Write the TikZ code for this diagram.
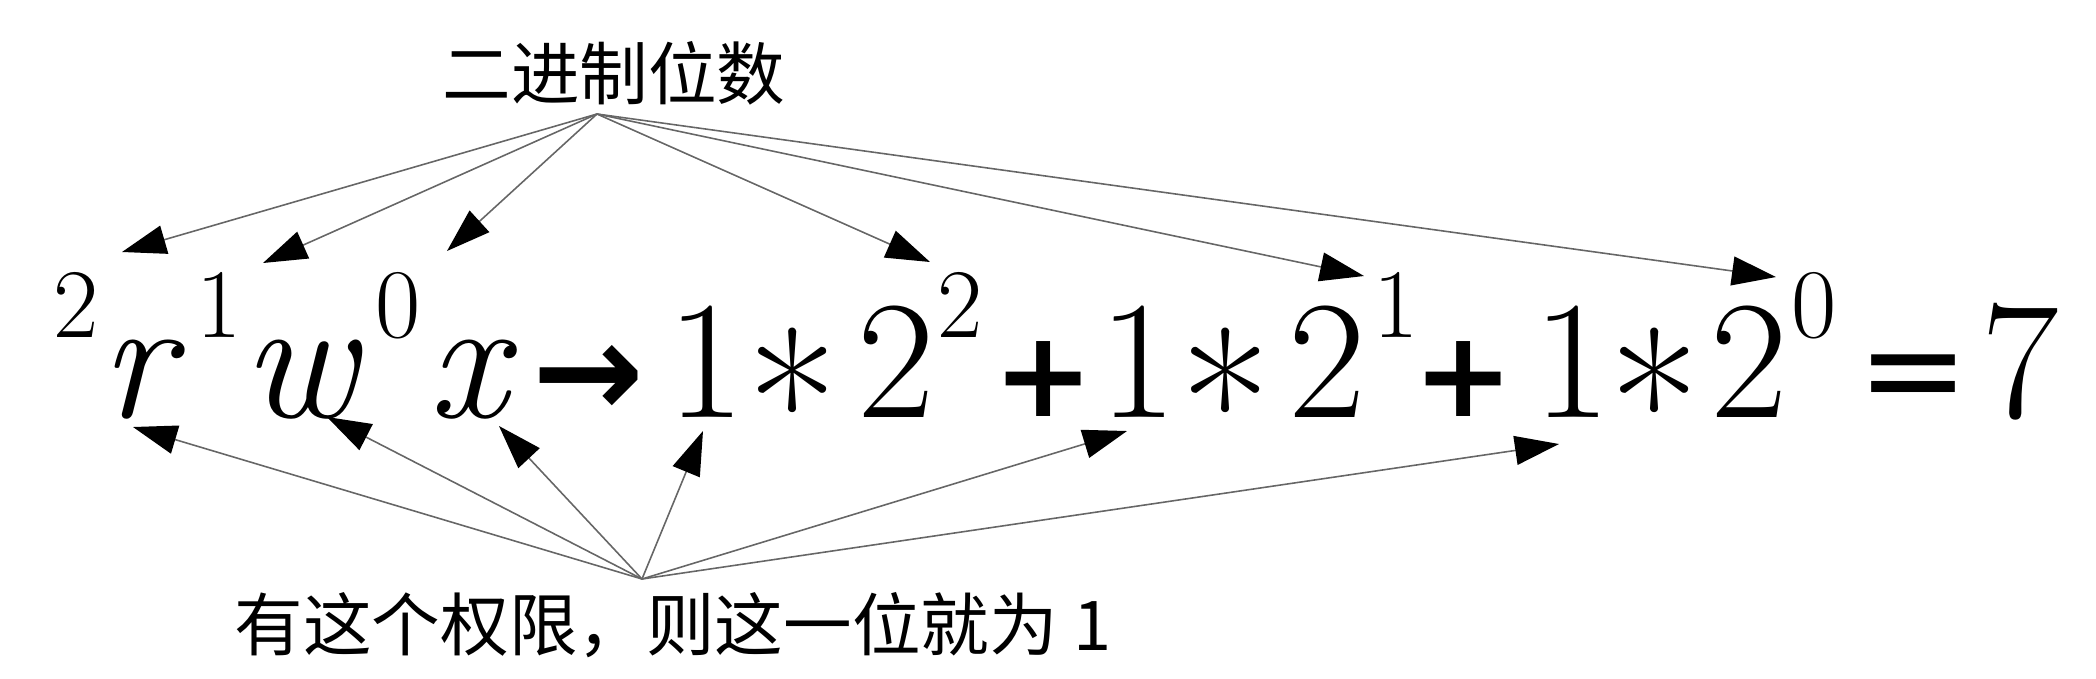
\documentclass[tikz,border=0pt]{standalone}
\usepackage{fontspec}
\newfontfamily\cjk{Noto Sans CJK SC}
\newfontfamily\symfont{DejaVu Sans}
\usetikzlibrary{arrows.meta,calc}

\tikzset{
  glyph/.style={anchor=base, inner sep=0pt, font=\fontsize{48}{50}\selectfont},
  var/.style={glyph, font=\itshape\fontsize{50}{50}\selectfont},
  sup/.style={anchor=base, inner sep=0pt, font=\fontsize{28}{30}\selectfont},
  caption/.style={font=\cjk\fontsize{19.5}{24}\selectfont},
  pin/.style={draw=black!60, line width=0.45pt,
    -{Triangle[length=4.4mm,width=2.9mm,color=black]}}
}

\begin{document}
\begin{tikzpicture}[x=0.01cm,y=-0.01cm]
	\useasboundingbox (0,0) rectangle (2096,678);
	
	% Labels
	\node[caption] (bits) at (614,73) {二进制位数};
	\node[caption] (perm) at (673,625) {有这个权限，则这一位就为 1};
	\coordinate (bitsrc) at (597,114);
	\coordinate (permsrc) at (642,579);
	
	% rwx with bit positions
	\node[var] (r) at (137,417) {r};
	\node[var] (w) at (300,417) {w};
	\node[var] (x) at (468,417) {x};
	\node[glyph, font=\symfont\bfseries\fontsize{38}{40}\selectfont] (to) at (588,417) {→};
	
	% Formula
	\foreach \n/\x/\t in {one1/706/1, one2/1138/1, one3/1572/1, two1/896/2, two2/1327/2, two3/1749/2, seven/2020/7} {
		\node[glyph] (\n) at (\x,417) {\t};
	}
	\foreach \n/\x in {ast1/793, ast2/1226, ast3/1655} {
		\node[glyph, font=\fontsize{56}{56}\selectfont] (\n) at (\x,475) {*};
	}
	\foreach \n/\x in {plus1/1044, plus2/1464} {
		\node[glyph, font=\symfont\bfseries\fontsize{34}{40}\selectfont] (\n) at (\x,416) {+};
	}
	\node[glyph, font=\symfont\fontsize{38}{40}\selectfont] (eq) at (1913,415) {=};
	\foreach \n/\x/\t in {sr/76/2, sw/219/1, sx/398/0, e1/960/2, e2/1396/1, e3/1814/0} {
		\node[sup] (\n) at (\x,337) {\t};
	}
	
	% Arrows from top label
	\draw[pin] (bitsrc) -- ($(r.base)+(-15,-165)$);
	\draw[pin] (bitsrc) -- ($(w.base)+(-37,-154)$);
	\draw[pin] (bitsrc) -- ($(x.base)+(-21,-166)$);
	\draw[pin] (bitsrc) -- ($(two1.base)+(34,-155)$);
	\draw[pin] (bitsrc) -- ($(two2.base)+(37,-141)$);
	\draw[pin] (bitsrc) -- ($(two3.base)+(27,-140)$);
	
	% Arrows from bottom label
	\draw[pin] (permsrc) -- ($(r.base)+(-4,10)$);
	\draw[pin] (permsrc) -- ($(w.base)+(27,0)$);
	\draw[pin] (permsrc) -- ($(x.base)+(31,9)$);
	\draw[pin] (permsrc) -- ($(one1.base)+(-3,14)$);
	\draw[pin] (permsrc) -- ($(one2.base)+(-11,14)$);
	\draw[pin] (permsrc) -- ($(one3.base)+(-13,27)$);
	
\end{tikzpicture}
\end{document}
